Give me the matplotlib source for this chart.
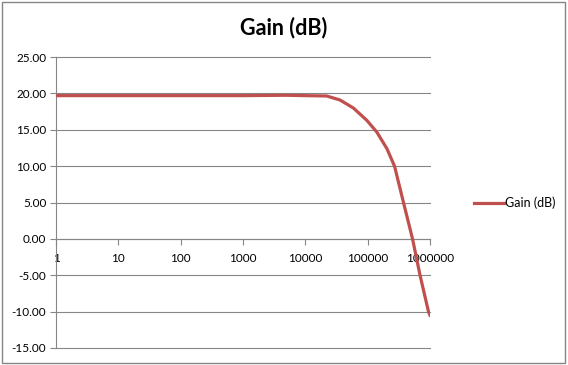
import matplotlib.pyplot as plt
import matplotlib.patches as patches
import numpy as np

# frequency (Hz) and gain (dB)
freq = [1, 10, 100, 1000, 5000, 10000, 22000, 36000, 59000, 97000,
        140000, 204000, 270000, 376000, 525000, 693000, 946000, 1000000]
gain = [19.7, 19.7, 19.7, 19.7, 19.75, 19.7, 19.65, 19.1, 18.0, 16.3,
        14.7, 12.4, 10.0, 5.0, 0.0, -5.0, -10.0, -10.5]
xticks = [1, 10, 100, 1000, 10000, 100000, 1000000]
yticks = [-15, -10, -5, 0, 5, 10, 15, 20, 25]

plt.rcParams['font.family'] = ['Lato', 'DejaVu Sans']
grey = '#868686'
red = '#C0504D'

fig = plt.figure(figsize=(5.68, 3.65), dpi=100)
fig.patches.append(patches.Rectangle((0.004, 0.006), 0.991, 0.988, transform=fig.transFigure,
                                     fill=False, edgecolor=grey, linewidth=1))
ax = fig.add_axes([0.0986, 0.0466, 0.6584, 0.797])

ax.plot(freq, gain, color=red, linewidth=2.3, label='Gain (dB)', zorder=3,
        solid_joinstyle='round')
ax.set_xscale('log')
ax.set_xlim(1, 1000000)
ax.set_ylim(-15, 25)

ax.set_yticks(yticks)
ax.set_yticklabels(['%.2f' % v for v in yticks], fontsize=8.5)
ax.yaxis.grid(True, color=grey, linewidth=0.8)
for gl in ax.get_ygridlines():
    gl.set_clip_on(False)
ax.set_axisbelow(True)

# x axis sits on y = 0
ax.spines['bottom'].set_position(('data', 0))
for s in ['top', 'right']:
    ax.spines[s].set_visible(False)
ax.spines['bottom'].set_color(grey)
ax.spines['left'].set_color(grey)
ax.set_xticks(xticks)
ax.set_xticklabels([str(v) for v in xticks], fontsize=8.5)
ax.xaxis.set_minor_locator(plt.NullLocator())
ax.tick_params(axis='x', direction='out', length=4, color=grey, pad=6)
ax.tick_params(axis='y', direction='out', length=4, color=grey, pad=3)

fig.suptitle('Gain (dB)', x=0.5, y=0.955, fontsize=15.5, fontweight='bold')
fig.legend(loc='center left', bbox_to_anchor=(0.825, 0.444), frameon=False,
           fontsize=9, handlelength=2.4, handletextpad=0.1, borderaxespad=0)

fig.savefig('out.png', dpi=100)
